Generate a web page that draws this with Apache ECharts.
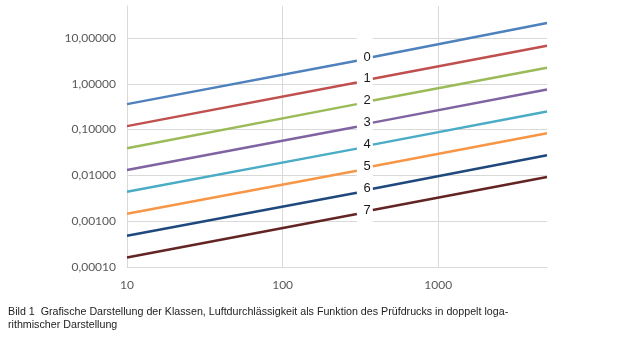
<!DOCTYPE html>
<html>
<head>
<meta charset="utf-8">
<script src="https://cdn.jsdelivr.net/npm/echarts@6/dist/echarts.min.js"></script>
<style>
  html, body { margin: 0; padding: 0; background: #fff; }
  #chart { width: 626px; height: 352px; }
</style>
</head>
<body>
<div id="chart"></div>
<script>
const classNames = ["0", "1", "2", "3", "4", "5", "6", "7"];
const pressures = [10, 300, 380, 5000];
const gapPressure = 340;
const at10 = [0.360, 0.119, 0.0392, 0.0131, 0.00440, 0.00145, 0.00048, 0.000161];
const at300 = [3.19, 1.07, 0.360, 0.116, 0.0384, 0.0127, 0.00418, 0.00143];
const at380 = [3.84, 1.29, 0.431, 0.142, 0.0470, 0.0158, 0.00512, 0.00175];
const at5000 = [21.3, 6.79, 2.24, 0.750, 0.248, 0.0836, 0.0276, 0.00923];
const colors = ["#4F81BD", "#C0504D", "#9BBB59", "#8064A2", "#4BACC6", "#F79646", "#1F497D", "#632523"];

const gridColor = "#d9d9d9";
const labelColor = "#595959";

let series = classNames.map((name, i) => {
  return {
    name: name,
    type: "line",
    symbol: "circle",
    symbolSize: 0,
    showSymbol: true,
    connectNulls: false,
    z: 3,
    lineStyle: { color: colors[i], width: 2.5 },
    itemStyle: { color: colors[i] },
    data: [
      [pressures[0], at10[i]],
      [pressures[1], at300[i]],
      [gapPressure, "-"],
      {
        value: [pressures[2], at380[i]],
        label: {
          show: true,
          position: "left",
          distance: 2,
          formatter: name,
          color: "#1a1a1a",
          fontSize: 13,
          fontFamily: "Liberation Sans",
        },
      },
      [pressures[3], at5000[i]],
    ],
  };
});

// weisse Flaeche fuer die Luecke im Gitter
series.push({
  type: "line",
  data: [],
  z: 1,
  silent: true,
  markArea: {
    silent: true,
    itemStyle: { color: "#fff" },
    data: [[{ xAxis: pressures[1], yAxis: 0.00013 }, { xAxis: pressures[2], yAxis: 50 }]],
  },
});

let option = {
  animation: false,
  title: {
    text: "Bild 1  Grafische Darstellung der Klassen, Luftdurchlässigkeit als Funktion des Prüfdrucks in doppelt loga-\nrithmischer Darstellung",
    left: 3,
    top: 301,
    textStyle: {
      fontSize: 10.7,
      fontWeight: "normal",
      color: "#222",
      fontFamily: "Liberation Sans",
      lineHeight: 13,
    },
  },
  grid: {
    left: 127,
    right: 79,
    top: 6,
    bottom: 85,
  },
  xAxis: {
    type: "log",
    logBase: 10,
    min: 10,
    max: 5000,
    axisLine: { lineStyle: { color: gridColor, width: 1 } },
    axisTick: { show: false },
    axisLabel: {
      color: labelColor,
      fontSize: 12,
      fontFamily: "Lato",
      margin: 12,
      showMaxLabel: false,
      formatter: (v) => String(Math.round(v)),
    },
    splitLine: { show: true, showMaxLine: false, lineStyle: { color: gridColor } },
  },
  yAxis: {
    type: "log",
    logBase: 10,
    min: 0.0001,
    max: 50,
    axisLine: { show: true, lineStyle: { color: gridColor, width: 1 } },
    axisTick: { show: false },
    axisLabel: {
      color: labelColor,
      fontSize: 12,
      fontFamily: "Lato",
      margin: 11,
      showMaxLabel: false,
      formatter: (v) => v.toFixed(5).replace(".", ","),
    },
    splitLine: { show: true, showMaxLine: false, lineStyle: { color: gridColor } },
  },
  series: series,
};

let myChart = echarts.init(document.getElementById("chart"));
myChart.setOption(option, true);
window.onresize = myChart.resize;
</script>
</body>
</html>
